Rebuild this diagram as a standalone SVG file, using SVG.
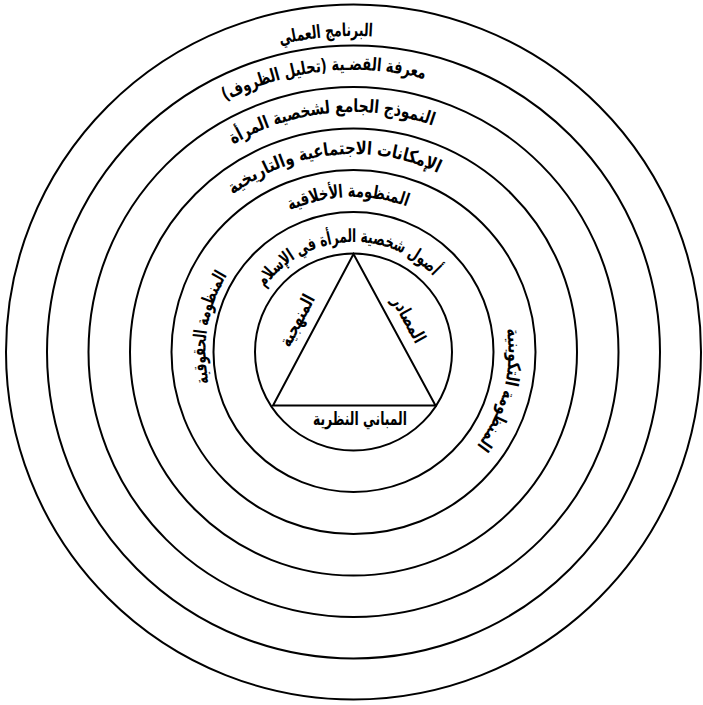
<svg xmlns="http://www.w3.org/2000/svg" width="703" height="705" viewBox="0 0 703 705">
<style>
.ring{fill:none;stroke:#000;stroke-width:2}
.lbl{font-family:'DejaVu Sans',sans-serif;font-weight:bold;font-size:18px;fill:#000}
</style>
<defs>
<path id="pA" d="M353.5,668 A316,316 0 1 1 353.5,36 A316,316 0 1 1 353.5,668"/>
<path id="pB" d="M353.5,634 A282,282 0 1 1 353.5,70 A282,282 0 1 1 353.5,634"/>
<path id="pC" d="M353.5,592 A240,240 0 1 1 353.5,112 A240,240 0 1 1 353.5,592"/>
<path id="pD" d="M353.5,550 A198,198 0 1 1 353.5,154 A198,198 0 1 1 353.5,550"/>
<path id="pE" d="M353.5,507 A155,155 0 1 1 353.5,197 A155,155 0 1 1 353.5,507"/>
<path id="pF" d="M353.5,462 A110,110 0 1 1 353.5,242 A110,110 0 1 1 353.5,462"/>
<path id="pS" d="M353.5,500 A148,148 0 1 1 353.5,204 A148,148 0 1 1 353.5,500"/>
</defs>
<g id="connectors"/>
<g id="ring7"><circle class="ring" cx="353.5" cy="352" r="347.5"/><text class="lbl" text-anchor="middle"><textPath href="#pA" startOffset="48.62%" textLength="93" lengthAdjust="spacingAndGlyphs">البرنامج العملي</textPath></text></g>
<g id="ring6"><circle class="ring" cx="353.5" cy="352" r="306.5"/><text class="lbl" text-anchor="middle"><textPath href="#pB" startOffset="48.28%" textLength="205" lengthAdjust="spacingAndGlyphs">معرفة القضـية (تحليل الظروف)</textPath></text></g>
<g id="ring5"><circle class="ring" cx="353.5" cy="352" r="265"/><text class="lbl" text-anchor="middle"><textPath href="#pC" startOffset="48.5%" textLength="207" lengthAdjust="spacingAndGlyphs">النموذج الجامع لشخصية المرأة</textPath></text></g>
<g id="ring4"><circle class="ring" cx="353.5" cy="352" r="223.5"/><text class="lbl" text-anchor="middle"><textPath href="#pD" startOffset="48.31%" textLength="217" lengthAdjust="spacingAndGlyphs">الإمكانات الاجتماعية والتاريخية</textPath></text></g>
<g id="ring3"><circle class="ring" cx="353.5" cy="352" r="182"/><text class="lbl" text-anchor="middle"><textPath href="#pE" startOffset="49.44%" textLength="120" lengthAdjust="spacingAndGlyphs">المنظومة الأخلاقية</textPath></text>
<text class="lbl" text-anchor="middle"><textPath href="#pS" startOffset="27.67%" textLength="112" lengthAdjust="spacingAndGlyphs">المنظومة الحقوقية</textPath></text>
<text class="lbl" text-anchor="middle"><textPath href="#pE" startOffset="78.99%" textLength="124" lengthAdjust="spacingAndGlyphs">المنظومة التكوينية</textPath></text></g>
<g id="ring2"><circle class="ring" cx="353.5" cy="352" r="140"/><text class="lbl" text-anchor="middle"><textPath href="#pF" startOffset="48.94%" textLength="193" lengthAdjust="spacingAndGlyphs">أصول شخصية المرأة في الإسلام</textPath></text></g>
<g id="ring1"><circle class="ring" cx="353.5" cy="352" r="98.5"/></g>
<g id="triangle"><polygon points="353.5,254 273,405.5 435.5,405.5" style="fill:none;stroke:#000;stroke-width:2;stroke-linejoin:miter"/>
<text class="lbl" text-anchor="middle" x="302.4" y="323.3" transform="rotate(-62.4 302.4 323.3)" textLength="56" lengthAdjust="spacingAndGlyphs">المنهجية</text>
<text class="lbl" text-anchor="middle" x="403.6" y="322.4" transform="rotate(61.2 403.6 322.4)" textLength="50" lengthAdjust="spacingAndGlyphs">المصادر</text>
<text class="lbl" text-anchor="middle" x="360" y="425" textLength="94" lengthAdjust="spacingAndGlyphs">المباني النظرية</text></g>
</svg>
